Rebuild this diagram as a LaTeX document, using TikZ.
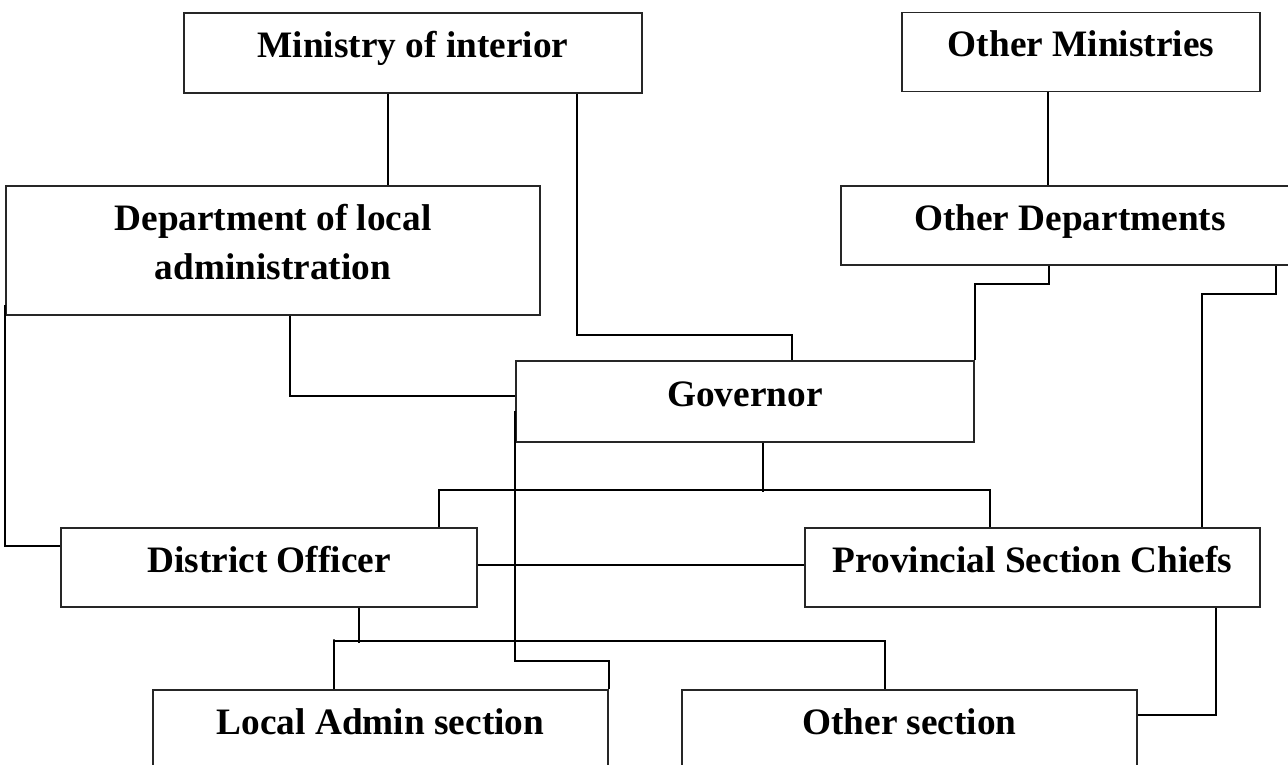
\documentclass[tikz,border=0pt]{standalone}
\usepackage{fontspec}
\setmainfont{Liberation Serif}
\begin{document}
\begin{tikzpicture}[x=1pt,y=-1pt,
  box/.style={draw=black!85, line width=1.3pt, rectangle, inner sep=0pt,
    minimum height=80pt, text height=26pt, text depth=17pt,
    font=\fontsize{37.3}{49}\selectfont\bfseries},
  conn/.style={draw=black, line width=2pt}]
\useasboundingbox (0,0) rectangle (1288,765);
\clip (0,0) rectangle (1288,765);
% boxes
\node[box, minimum width=458pt] (mi) at (413,53) {Ministry of interior};
\node[box, minimum width=358pt, minimum height=79pt] (om) at (1081,52) {Other Ministries};
\node[box, minimum width=534pt, minimum height=129pt, text height=26pt, text depth=67pt] (dept) at (273,250.5)
  {\begin{tabular}[t]{@{}c@{}}Department of local\\administration\end{tabular}};
\node[box, minimum width=458pt, minimum height=79pt] (od) at (1070,225.5) {Other Departments};
\node[box, minimum width=458pt, minimum height=81pt] (gov) at (745,401.5) {Governor};
\node[box, minimum width=416pt, minimum height=79pt] (do) at (269,567.5) {District Officer};
\node[box, minimum width=455pt, minimum height=79pt] (psc) at (1032.5,567.5) {Provincial Section Chiefs};
\node[box, minimum width=455pt] (la) at (380.5,730) {Local Admin section};
\node[box, minimum width=455pt] (os) at (909.5,730) {Other section};
% connectors
\draw[conn] ([xshift=-25pt]mi.south) -- ([xshift=-25pt]mi.south |- dept.north);
\draw[conn] ([xshift=164pt]mi.south) -- ++(0,241) -| ([xshift=47pt]gov.north);
\draw[conn] ([xshift=-33pt]om.south) -- ([xshift=-33pt]om.south |- od.north);
\draw[conn] ([xshift=-21pt]od.south) -- ++(0,18) -| (gov.north east);
\draw[conn] ([xshift=206pt]od.south) -- ++(0,28) -| ([xshift=169.5pt]psc.north);
\draw[conn] ([xshift=17pt]dept.south) |- ([yshift=5.5pt]gov.west);
\draw[conn] ([yshift=11pt]dept.south west) |- ([yshift=21.5pt]do.west);
\draw[conn] ([yshift=32pt]gov.south west) -- ++(0,250) -| (la.north east);
\draw[conn] ([xshift=18pt]gov.south) -- ++(0,49);
\draw[conn] ([xshift=170pt]do.north) -- ++(0,-37) -| ([xshift=-42.5pt]psc.north);
\draw[conn] ([yshift=2.5pt]do.east) -- ([yshift=2.5pt]do.east -| psc.west);
\draw[conn] ([xshift=90pt]do.south) -- ++(0,35);
\draw[conn] ([xshift=-46.5pt]la.north) -- ++(0,-50) -- ++(0,2) -| ([xshift=-24.5pt]os.north);
\draw[conn] ([xshift=183.5pt]psc.south) |- ([yshift=15pt]os.east);
\end{tikzpicture}
\end{document}
